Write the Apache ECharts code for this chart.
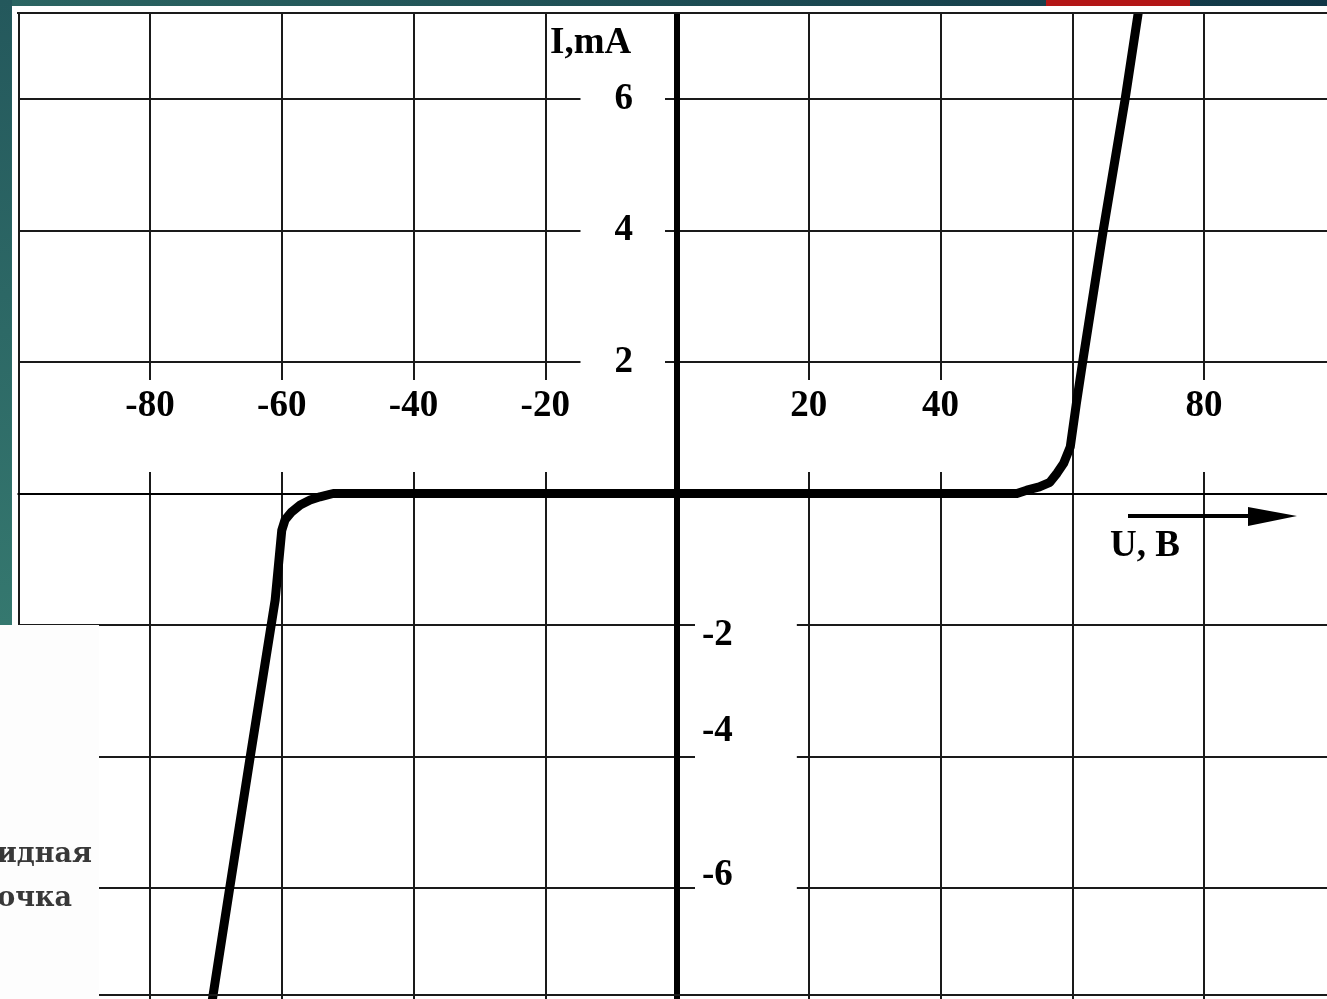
<!DOCTYPE html>
<html>
<head>
<meta charset="utf-8">
<script src="https://cdn.jsdelivr.net/npm/echarts@6.0.0/dist/echarts.min.js"></script>
<style>
  html, body { margin: 0; padding: 0; background: #fff; }
  #chart { width: 1327px; height: 999px; }
</style>
</head>
<body>
<div id="chart"></div>
<script>
// ВАХ стабилитрона: напряжение U (В) и ток I (мА)
var uValues = [-71.0, -67.9, -64.7, -61.0, -60.0, -59.5, -58.5, -57.2, -55.7, -54.2, -52.2,
  51.6, 53.1, 55.0, 56.6, 57.7, 58.7, 59.7, 60.6, 61.7, 64.7, 68.0, 70.0, 71.1];
var iValues = [-8.0, -6.0, -3.95, -1.62, -0.56, -0.40, -0.28, -0.175, -0.10, -0.05, 0,
  0, 0.05, 0.10, 0.17, 0.31, 0.46, 0.71, 1.35, 2.08, 4.0, 5.98, 7.3, 8.0];

// подписи делений
var uTickLabels = [-80, -60, -40, -20, 20, 40, 80];
var iTickLabelsPos = [2, 4, 6];
var iTickLabelsNeg = [-2, -4, -6];

var FONT = '"Liberation Serif", "Times New Roman", serif';
var GRID_COLOR = '#1a1a1a';

var curve = uValues.map(function (u, i) { return [u, iValues[i]]; });

var chart = echarts.init(document.getElementById('chart'), null, { renderer: 'canvas' });

// сетка шире окна: ноль осей в (677, 493.5), 20 В = 131.75 px, 2 мА = 131.5 px
var labelFont = { fontFamily: FONT, fontSize: 37, fontWeight: 'bold', color: '#000', lineHeight: 40 };

var option = {
  backgroundColor: '#ffffff',
  animation: false,
  grid: {
    left: 18.25, right: -8.75, top: -32.5, bottom: -20.5,
    containLabel: false, outerBoundsMode: 'none'
  },
  xAxis: [
    {
      type: 'value', min: -100, max: 100, interval: 20,
      axisLine: { onZero: true, lineStyle: { color: '#000', width: 2 } },
      axisTick: { show: false },
      axisLabel: { show: false },
      splitLine: { show: true, lineStyle: { color: GRID_COLOR, width: 2 } }
    },
    {
      // только подписи U, над осью
      type: 'value', min: -100, max: 100, interval: 20, position: 'bottom', offset: -526, z: 1,
      axisLine: { show: false, onZero: false },
      axisTick: { show: false },
      splitLine: { show: false },
      axisLabel: Object.assign({
        customValues: uTickLabels,
        inside: true,
        margin: 21.5,
        backgroundColor: '#fff',
        padding: [6, 8, 46, 8]
      }, labelFont)
    }
  ],
  yAxis: [
    {
      type: 'value', min: -8, max: 8, interval: 2,
      axisLine: { onZero: true, onZeroAxisIndex: 0, lineStyle: { color: '#000', width: 6 } },
      axisTick: { show: false },
      axisLabel: { show: false },
      splitLine: { show: true, lineStyle: { color: GRID_COLOR, width: 2 } }
    },
    {
      // положительные I слева от оси
      type: 'value', min: -8, max: 8, interval: 2, position: 'left', offset: -658.75, z: 1,
      axisLine: { show: false, onZero: false },
      axisTick: { show: false },
      splitLine: { show: false },
      axisLabel: Object.assign({
        customValues: iTickLabelsPos,
        margin: 12,
        backgroundColor: '#fff',
        padding: [8, 32, 8, 34]
      }, labelFont)
    },
    {
      // отрицательные I справа от оси
      type: 'value', min: -8, max: 8, interval: 2, position: 'right', offset: -658.75, z: 1,
      axisLine: { show: false, onZero: false },
      axisTick: { show: false },
      splitLine: { show: false },
      axisLabel: {
        customValues: iTickLabelsNeg,
        margin: 18,
        backgroundColor: '#fff',
        padding: [4, 64, 4, 7],
        formatter: function (v) {
          // подписи в оригинале чуть смещены от линий
          if (v === -2) return '{g20| }\n{t|' + v + '}';
          if (v === -4) return '{t|' + v + '}\n{g50| }';
          return '{t|' + v + '}\n{g26| }';
        },
        rich: {
          t: labelFont,
          g20: { lineHeight: 20, fontSize: 10 },
          g26: { lineHeight: 26, fontSize: 10 },
          g50: { lineHeight: 50, fontSize: 10 }
        }
      }
    }
  ],
  series: [{
    type: 'line',
    data: curve,
    showSymbol: false,
    smooth: false,
    lineStyle: { color: '#000', width: 9, join: 'round', cap: 'butt' },
    z: 3
  }],
  graphic: [
    // поля слайда
    { type: 'rect', shape: { x: 0, y: 0, width: 1327, height: 12 }, style: { fill: '#fff' }, z: 50 },
    { type: 'rect', shape: { x: 0, y: 625, width: 99, height: 374 }, style: { fill: '#fdfdfd' }, z: 50 },
    {
      type: 'rect', shape: { x: 0, y: 0, width: 1327, height: 6 }, z: 60,
      style: { fill: new echarts.graphic.LinearGradient(0, 0, 1, 0, [
        { offset: 0, color: '#2b6562' }, { offset: 1, color: '#103646' }]) }
    },
    {
      type: 'rect', shape: { x: 0, y: 0, width: 12, height: 625 }, z: 60,
      style: { fill: new echarts.graphic.LinearGradient(0, 0, 0, 1, [
        { offset: 0, color: '#24585c' }, { offset: 1, color: '#35786f' }]) }
    },
    { type: 'rect', shape: { x: 1046, y: 0, width: 144, height: 6 }, style: { fill: '#b31616' }, z: 61 },
    // рамка рисунка
    { type: 'line', shape: { x1: 17, y1: 13, x2: 1327, y2: 13 }, style: { stroke: GRID_COLOR, lineWidth: 2 }, z: 55 },
    { type: 'line', shape: { x1: 99, y1: 995, x2: 1327, y2: 995 }, style: { stroke: GRID_COLOR, lineWidth: 2 }, z: 55 },
    // названия осей
    {
      type: 'text', x: 550, y: 43, z: 55,
      style: { text: 'I,mA', font: 'bold 37px ' + FONT, fill: '#000',
        textAlign: 'left', align: 'left', textVerticalAlign: 'middle', verticalAlign: 'middle' }
    },
    {
      type: 'text', x: 1110, y: 546, z: 55,
      style: { text: 'U, B', font: 'bold 37px ' + FONT, fill: '#000',
        textAlign: 'left', align: 'left', textVerticalAlign: 'middle', verticalAlign: 'middle' }
    },
    { type: 'line', shape: { x1: 1128, y1: 516, x2: 1262, y2: 516 }, style: { stroke: '#000', lineWidth: 4 }, z: 55 },
    { type: 'polygon', shape: { points: [[1248, 507], [1297, 516], [1248, 526]] }, style: { fill: '#000' }, z: 55 },
    // обрезанный текст слайда
    {
      type: 'text', x: 92, y: 855, z: 56,
      style: { text: 'идная', font: 'bold 27px "DejaVu Serif", serif', fill: '#383838',
        textAlign: 'right', align: 'right', textVerticalAlign: 'middle', verticalAlign: 'middle' }
    },
    {
      type: 'text', x: 72, y: 899, z: 56,
      style: { text: 'очка', font: 'bold 27px "DejaVu Serif", serif', fill: '#383838',
        textAlign: 'right', align: 'right', textVerticalAlign: 'middle', verticalAlign: 'middle' }
    }
  ]
};

chart.setOption(option);
</script>
</body>
</html>
